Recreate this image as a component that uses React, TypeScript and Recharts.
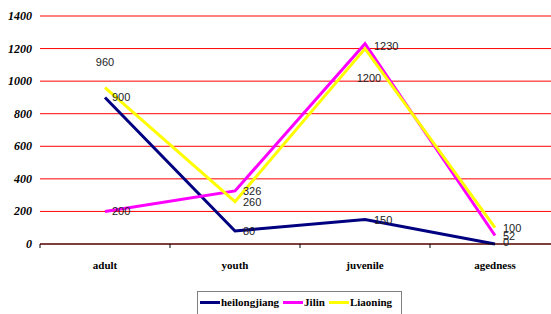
import React from 'react';
import { LineChart, Line, XAxis, YAxis, CartesianGrid, Legend } from 'recharts';

const categories = ['adult', 'youth', 'juvenile', 'agedness'];
const heilongjiang = [900, 80, 150, 0];
const jilin = [200, 326, 1230, 52];
const liaoning = [960, 260, 1200, 100];
const yTicks = [0, 200, 400, 600, 800, 1000, 1200, 1400];

const data = categories.map((c, i) => ({
  name: c,
  heilongjiang: heilongjiang[i],
  Jilin: jilin[i],
  Liaoning: liaoning[i],
}));

const seriesDefs = [
  { key: 'heilongjiang', color: '#000080' },
  { key: 'Jilin', color: '#ff00ff' },
  { key: 'Liaoning', color: '#ffff00' },
];

// label placement offsets (style only)
const labelOffsets: Record<string, Array<{ dx: number; dy: number; anchor: 'start' | 'middle' }>> = {
  heilongjiang: [
    { dx: 7, dy: 0, anchor: 'start' },
    { dx: 8, dy: 0, anchor: 'start' },
    { dx: 9, dy: 0, anchor: 'start' },
    { dx: 8, dy: -2, anchor: 'start' },
  ],
  Jilin: [
    { dx: 7, dy: 0, anchor: 'start' },
    { dx: 8, dy: 0, anchor: 'start' },
    { dx: 9, dy: 2, anchor: 'start' },
    { dx: 8, dy: 0, anchor: 'start' },
  ],
  Liaoning: [
    { dx: 0, dy: -26, anchor: 'middle' },
    { dx: 8, dy: 0, anchor: 'start' },
    { dx: 4, dy: 29, anchor: 'middle' },
    { dx: 8, dy: 0, anchor: 'start' },
  ],
};

const makeLabel = (key: string) => (props: any) => {
  const { x, y, value, index } = props;
  const o = labelOffsets[key][index] || { dx: 8, dy: 0, anchor: 'start' };
  return (
    <text
      x={x + o.dx}
      y={y + o.dy}
      dy={4}
      textAnchor={o.anchor}
      fontFamily="'Liberation Sans', Arial, sans-serif"
      fontSize={11}
      fill="#222"
    >
      {value}
    </text>
  );
};

const XTick = (props: any) => {
  const { x, payload } = props;
  const band = 130;
  const axisY = 244;
  return (
    <g>
      <line x1={x - band / 2} x2={x - band / 2} y1={axisY} y2={axisY + 4} stroke="#000" strokeWidth={1} />
      <text
        x={x}
        y={axisY + 25}
        textAnchor="middle"
        fontFamily="'Liberation Serif', 'Times New Roman', serif"
        fontWeight="bold"
        fontSize={11}
        fill="#000"
      >
        {payload.value}
      </text>
    </g>
  );
};

const YTick = (props: any) => {
  const { y, payload } = props;
  return (
    <text
      x={32}
      y={y}
      dy={4}
      textAnchor="end"
      fontFamily="'Liberation Serif', 'Times New Roman', serif"
      fontWeight="bold"
      fontStyle="italic"
      fontSize={12}
      fill="#000"
    >
      {payload.value}
    </text>
  );
};

const LegendContent = () => (
  <div
    style={{
      border: '1px solid #808080',
      height: 26,
      width: 205,
      boxSizing: 'border-box',
      display: 'flex',
      alignItems: 'center',
      paddingLeft: 2,
      fontFamily: "'Liberation Serif', 'Times New Roman', serif",
      fontWeight: 'bold',
      fontSize: 11,
      color: '#000',
      background: '#fff',
    }}
  >
    {seriesDefs.map((s, i) => (
      <div key={s.key} style={{ display: 'flex', alignItems: 'center', marginRight: i < 2 ? 4 : 0, marginTop: -4 }}>
        <span style={{ display: 'inline-block', width: 20, height: 3, background: s.color, marginRight: 1 }} />
        <span>{s.key}</span>
      </div>
    ))}
  </div>
);

export default function App() {
  return (
    <div style={{ position: 'absolute', left: 0, top: 0, width: 551, height: 314, overflow: 'hidden', background: '#fff' }}>
      <LineChart width={560} height={314} data={data} margin={{ top: 16, right: 0, left: 0, bottom: 40 }}>
        <CartesianGrid horizontal vertical={false} stroke="#ff0000" strokeWidth={1} />
        <XAxis
          dataKey="name"
          height={30}
          padding={{ left: 65, right: 65 }}
          axisLine={{ stroke: '#000', strokeWidth: 1 }}
          tickLine={false}
          tick={<XTick />}
          interval={0}
        />
        <YAxis
          width={40}
          domain={[0, 1400]}
          ticks={yTicks}
          axisLine={false}
          tickLine={false}
          tick={<YTick />}
          interval={0}
        />
        <Legend
          verticalAlign="middle"
          align="center"
          layout="horizontal"
          content={<LegendContent />}
          wrapperStyle={{ position: 'absolute', left: 197, top: 291, width: 205, height: 26 }}
        />
        {seriesDefs.map((s) => (
          <Line
            key={s.key}
            type="linear"
            dataKey={s.key}
            stroke={s.color}
            strokeWidth={3}
            dot={false}
            activeDot={false}
            isAnimationActive={false}
            label={makeLabel(s.key)}
          />
        ))}
      </LineChart>
    </div>
  );
}
